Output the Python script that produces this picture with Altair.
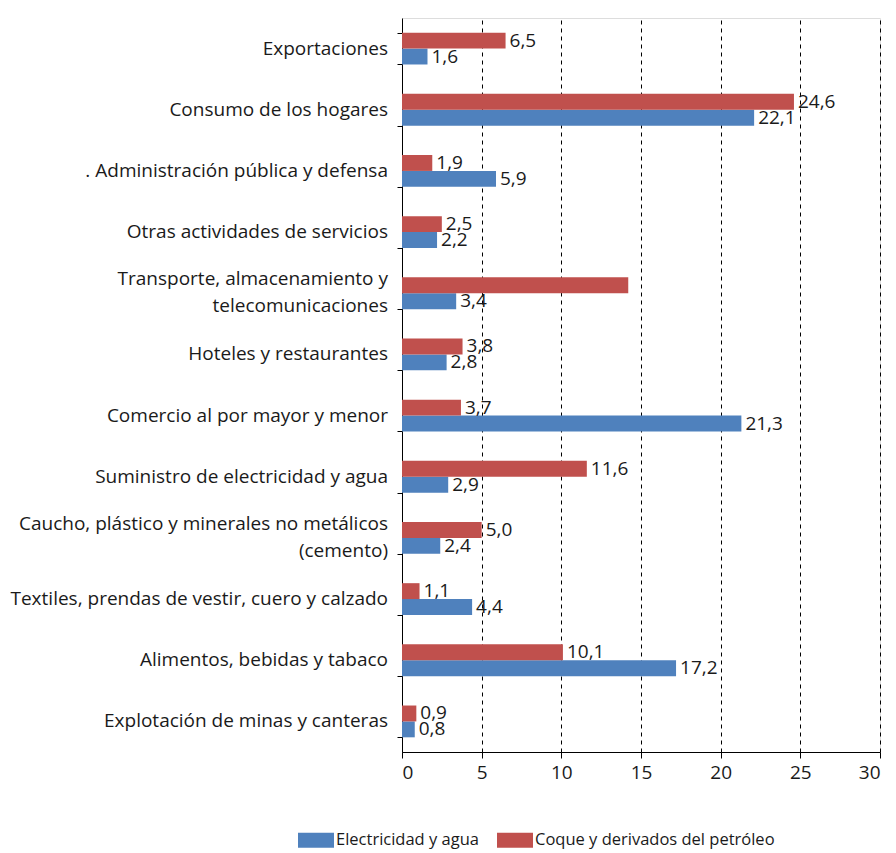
import altair as alt
import pandas as pd

categories = [
    "Exportaciones ",
    "Consumo de los hogares",
    ". Administración pública y defensa",
    "Otras actividades de servicios",
    "Transporte, almacenamiento y|telecomunicaciones",
    "Hoteles y restaurantes",
    "Comercio al por mayor y menor",
    "Suministro de electricidad y agua",
    "Caucho, plástico y minerales no metálicos|(cemento)",
    "Textiles, prendas de vestir, cuero y calzado",
    "Alimentos, bebidas y tabaco",
    "Explotación de minas y canteras",
]
electricidad = [1.6, 22.1, 5.9, 2.2, 3.4, 2.8, 21.3, 2.9, 2.4, 4.4, 17.2, 0.8]
coque = [6.5, 24.6, 1.9, 2.5, 14.2, 3.8, 3.7, 11.6, 5.0, 1.1, 10.1, 0.9]
coque_labels = ["6,5", "24,6", "1,9", "2,5", "", "3,8", "3,7", "11,6", "5,0", "1,1", "10,1", "0,9"]
series = ["Electricidad y agua", "Coque y derivados del petróleo"]
colors = ["#4F81BD", "#C0504D"]

rows = []
for c, e, k, kl in zip(categories, electricidad, coque, coque_labels):
    rows.append({"cat": c, "serie": series[0], "valor": e, "lbl": f"{e:.1f}".replace(".", ",")})
    rows.append({"cat": c, "serie": series[1], "valor": k, "lbl": kl})
df = pd.DataFrame(rows)
cat_df = pd.DataFrame({"cat": categories, "multi": ["|" in c for c in categories]})

FONT = "Open Sans"
FS = 19
TXT = "#1a1a1a"

y = alt.Y(
    "cat:N",
    sort=categories,
    title=None,
    scale=alt.Scale(paddingInner=0.48, paddingOuter=0.24),
    axis=alt.Axis(
        labels=False,
        domainColor="#000000",
        tickColor="#000000",
        tickSize=5,
        tickBand="extent",
        grid=False,
    ),
)
yoff = alt.YOffset(
    "serie:N",
    sort=[series[1], series[0]],
    scale=alt.Scale(paddingInner=0.0),
)
x = alt.X(
    "valor:Q",
    title=None,
    scale=alt.Scale(domain=[0, 30], nice=False),
    axis=alt.Axis(
        values=[0, 5, 10, 15, 20, 25, 30],
        labelFontSize=FS,
        labelFont=FONT,
        labelColor=TXT,
        labelPadding=5,
        domainColor="#000000",
        tickColor="#000000",
        tickSize=6,
        grid=True,
        gridColor="#000000",
        gridDash=[4, 4],
        gridWidth=1,
        gridOpacity=1,
    ),
)

bars = alt.Chart(df).mark_bar(stroke=None).encode(
    x=x,
    y=y,
    yOffset=yoff,
    color=alt.Color(
        "serie:N",
        sort=series,
        scale=alt.Scale(domain=series, range=colors),
        legend=alt.Legend(
            title=None,
            orient="none",
            legendX=-101,
            legendY=807,
            direction="horizontal",
            labelFontSize=16.5,
            labelFont=FONT,
            labelColor=TXT,
            symbolType="M-1.2,-0.5H1.2V0.5H-1.2Z",
            symbolSize=900,
            symbolStrokeWidth=0,
            symbolOpacity=1,
            labelOffset=5,
            columnPadding=18,
            labelLimit=400,
        ),
    ),
)

labels = alt.Chart(df).mark_text(
    align="left", baseline="middle", dx=4, fontSize=FS, font=FONT, color=TXT
).encode(x="valor:Q", y=alt.Y("cat:N", sort=categories), yOffset=yoff, text="lbl:N")

ylab_single = alt.Chart(cat_df).transform_filter("!datum.multi").mark_text(
    align="right", baseline="middle", fontSize=FS, font=FONT, color=TXT
).encode(y=alt.Y("cat:N", sort=categories), x=alt.value(-14), text="cat:N")

ylab_multi = alt.Chart(cat_df).transform_filter("datum.multi").mark_text(
    align="right", baseline="middle", fontSize=FS, font=FONT, color=TXT,
    lineBreak="|", lineHeight=27, dy=-14,
).encode(y=alt.Y("cat:N", sort=categories), x=alt.value(-14), text="cat:N")

chart = (
    alt.layer(bars, labels, ylab_single, ylab_multi)
    .properties(
        width=478,
        height=734,
        autosize=alt.AutoSizeParams(type="none"),
        padding={"left": 394, "top": 10, "right": 8, "bottom": 100},
    )
    .configure_view(stroke=None)
    .configure(background="white")
)

chart.save("out.html", embed_options={"renderer": "svg", "actions": False})
